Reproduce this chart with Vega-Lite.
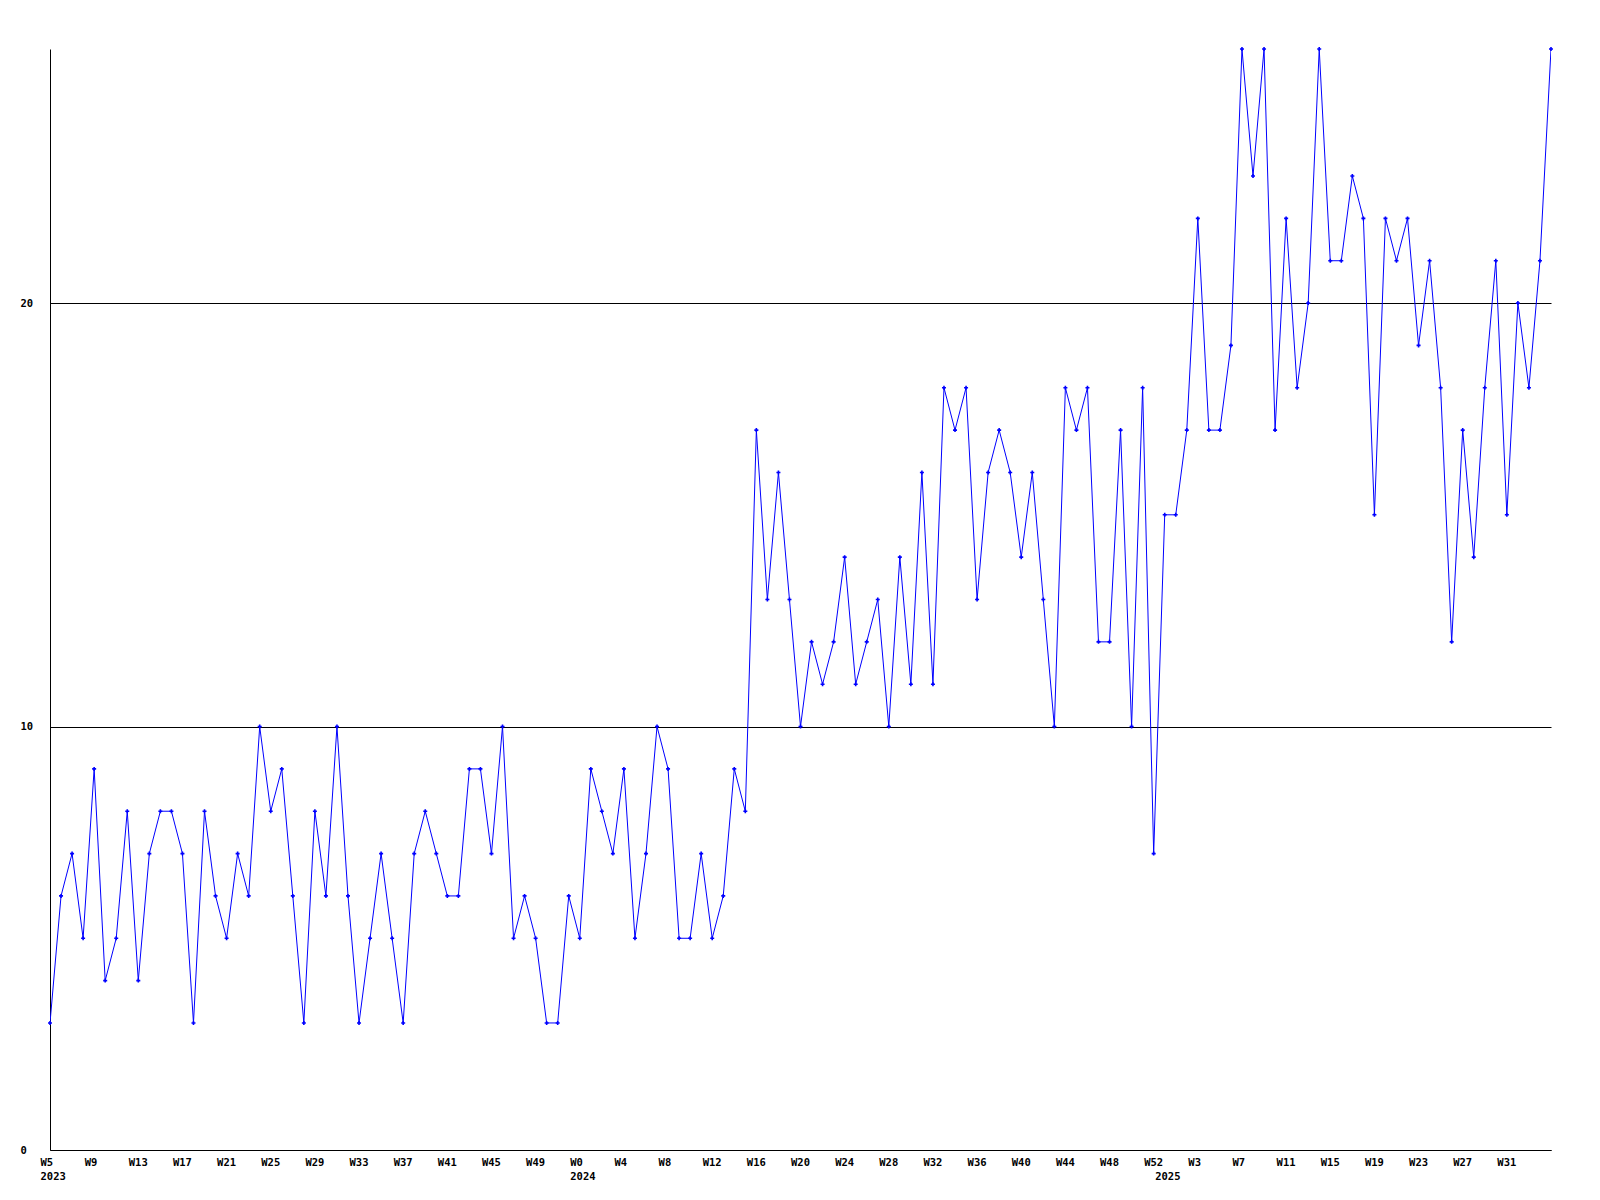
{
  "$schema": "https://vega.github.io/schema/vega-lite/v6.json",
  "width": 1501,
  "height": 1101,
  "autosize": "none",
  "padding": {"left": 50, "top": 49, "right": 49, "bottom": 50},
  "background": "white",
  "config": {"view": {"stroke": null}},
  "data": {"values": [
    {"wk": "2023 W5", "v": 3}, {"wk": "2023 W6", "v": 6}, {"wk": "2023 W7", "v": 7}, {"wk": "2023 W8", "v": 5},
    {"wk": "2023 W9", "v": 9}, {"wk": "2023 W10", "v": 4}, {"wk": "2023 W11", "v": 5}, {"wk": "2023 W12", "v": 8},
    {"wk": "2023 W13", "v": 4}, {"wk": "2023 W14", "v": 7}, {"wk": "2023 W15", "v": 8}, {"wk": "2023 W16", "v": 8},
    {"wk": "2023 W17", "v": 7}, {"wk": "2023 W18", "v": 3}, {"wk": "2023 W19", "v": 8}, {"wk": "2023 W20", "v": 6},
    {"wk": "2023 W21", "v": 5}, {"wk": "2023 W22", "v": 7}, {"wk": "2023 W23", "v": 6}, {"wk": "2023 W24", "v": 10},
    {"wk": "2023 W25", "v": 8}, {"wk": "2023 W26", "v": 9}, {"wk": "2023 W27", "v": 6}, {"wk": "2023 W28", "v": 3},
    {"wk": "2023 W29", "v": 8}, {"wk": "2023 W30", "v": 6}, {"wk": "2023 W31", "v": 10}, {"wk": "2023 W32", "v": 6},
    {"wk": "2023 W33", "v": 3}, {"wk": "2023 W34", "v": 5}, {"wk": "2023 W35", "v": 7}, {"wk": "2023 W36", "v": 5},
    {"wk": "2023 W37", "v": 3}, {"wk": "2023 W38", "v": 7}, {"wk": "2023 W39", "v": 8}, {"wk": "2023 W40", "v": 7},
    {"wk": "2023 W41", "v": 6}, {"wk": "2023 W42", "v": 6}, {"wk": "2023 W43", "v": 9}, {"wk": "2023 W44", "v": 9},
    {"wk": "2023 W45", "v": 7}, {"wk": "2023 W46", "v": 10}, {"wk": "2023 W47", "v": 5}, {"wk": "2023 W48", "v": 6},
    {"wk": "2023 W49", "v": 5}, {"wk": "2023 W50", "v": 3}, {"wk": "2023 W51", "v": 3}, {"wk": "2023 W52", "v": 6},
    {"wk": "2024 W0", "v": 5}, {"wk": "2024 W1", "v": 9}, {"wk": "2024 W2", "v": 8}, {"wk": "2024 W3", "v": 7},
    {"wk": "2024 W4", "v": 9}, {"wk": "2024 W5", "v": 5}, {"wk": "2024 W6", "v": 7}, {"wk": "2024 W7", "v": 10},
    {"wk": "2024 W8", "v": 9}, {"wk": "2024 W9", "v": 5}, {"wk": "2024 W10", "v": 5}, {"wk": "2024 W11", "v": 7},
    {"wk": "2024 W12", "v": 5}, {"wk": "2024 W13", "v": 6}, {"wk": "2024 W14", "v": 9}, {"wk": "2024 W15", "v": 8},
    {"wk": "2024 W16", "v": 17}, {"wk": "2024 W17", "v": 13}, {"wk": "2024 W18", "v": 16}, {"wk": "2024 W19", "v": 13},
    {"wk": "2024 W20", "v": 10}, {"wk": "2024 W21", "v": 12}, {"wk": "2024 W22", "v": 11}, {"wk": "2024 W23", "v": 12},
    {"wk": "2024 W24", "v": 14}, {"wk": "2024 W25", "v": 11}, {"wk": "2024 W26", "v": 12}, {"wk": "2024 W27", "v": 13},
    {"wk": "2024 W28", "v": 10}, {"wk": "2024 W29", "v": 14}, {"wk": "2024 W30", "v": 11}, {"wk": "2024 W31", "v": 16},
    {"wk": "2024 W32", "v": 11}, {"wk": "2024 W33", "v": 18}, {"wk": "2024 W34", "v": 17}, {"wk": "2024 W35", "v": 18},
    {"wk": "2024 W36", "v": 13}, {"wk": "2024 W37", "v": 16}, {"wk": "2024 W38", "v": 17}, {"wk": "2024 W39", "v": 16},
    {"wk": "2024 W40", "v": 14}, {"wk": "2024 W41", "v": 16}, {"wk": "2024 W42", "v": 13}, {"wk": "2024 W43", "v": 10},
    {"wk": "2024 W44", "v": 18}, {"wk": "2024 W45", "v": 17}, {"wk": "2024 W46", "v": 18}, {"wk": "2024 W47", "v": 12},
    {"wk": "2024 W48", "v": 12}, {"wk": "2024 W49", "v": 17}, {"wk": "2024 W50", "v": 10}, {"wk": "2024 W51", "v": 18},
    {"wk": "2024 W52", "v": 7},
    {"wk": "2025 W0", "v": 15}, {"wk": "2025 W1", "v": 15}, {"wk": "2025 W2", "v": 17}, {"wk": "2025 W3", "v": 22},
    {"wk": "2025 W4", "v": 17}, {"wk": "2025 W5", "v": 17}, {"wk": "2025 W6", "v": 19}, {"wk": "2025 W7", "v": 26},
    {"wk": "2025 W8", "v": 23}, {"wk": "2025 W9", "v": 26}, {"wk": "2025 W10", "v": 17}, {"wk": "2025 W11", "v": 22},
    {"wk": "2025 W12", "v": 18}, {"wk": "2025 W13", "v": 20}, {"wk": "2025 W14", "v": 26}, {"wk": "2025 W15", "v": 21},
    {"wk": "2025 W16", "v": 21}, {"wk": "2025 W17", "v": 23}, {"wk": "2025 W18", "v": 22}, {"wk": "2025 W19", "v": 15},
    {"wk": "2025 W20", "v": 22}, {"wk": "2025 W21", "v": 21}, {"wk": "2025 W22", "v": 22}, {"wk": "2025 W23", "v": 19},
    {"wk": "2025 W24", "v": 21}, {"wk": "2025 W25", "v": 18}, {"wk": "2025 W26", "v": 12}, {"wk": "2025 W27", "v": 17},
    {"wk": "2025 W28", "v": 14}, {"wk": "2025 W29", "v": 18}, {"wk": "2025 W30", "v": 21}, {"wk": "2025 W31", "v": 15},
    {"wk": "2025 W32", "v": 20}, {"wk": "2025 W33", "v": 18}, {"wk": "2025 W34", "v": 21}, {"wk": "2025 W35", "v": 26}
  ]},
  "encoding": {
    "x": {
      "field": "wk", "type": "ordinal", "sort": null,
      "scale": {"type": "point", "padding": 0},
      "axis": {
        "title": null, "ticks": false, "grid": false,
        "domainColor": "#000000", "domainWidth": 1,
        "values": ["2023 W5", "2023 W9", "2023 W13", "2023 W17", "2023 W21", "2023 W25", "2023 W29", "2023 W33", "2023 W37", "2023 W41", "2023 W45", "2023 W49",
                   "2024 W0", "2024 W4", "2024 W8", "2024 W12", "2024 W16", "2024 W20", "2024 W24", "2024 W28", "2024 W32", "2024 W36", "2024 W40", "2024 W44", "2024 W48", "2024 W52",
                   "2025 W0", "2025 W3", "2025 W7", "2025 W11", "2025 W15", "2025 W19", "2025 W23", "2025 W27", "2025 W31"],
        "labelExpr": "datum.value == '2023 W5' ? ['W5', '2023'] : datum.value == '2024 W0' ? ['W0', '2024'] : datum.value == '2025 W0' ? ['', '2025'] : split(datum.value, ' ')[1]",
        "labelAlign": "left", "labelOffset": -10, "labelBaseline": "top", "labelPadding": 7,
        "labelFont": "DejaVu Sans Mono", "labelFontWeight": "bold", "labelFontSize": 10.5,
        "labelColor": "#000000", "labelOverlap": false, "labelLineHeight": 14.5,
        "labelBound": false, "labelFlush": false, "labelAngle": 0
      }
    },
    "y": {
      "field": "v", "type": "quantitative",
      "scale": {"domain": [0, 26], "nice": false, "zero": true},
      "axis": {
        "title": null, "values": [0, 10, 20], "ticks": false,
        "grid": true, "gridColor": "#000000", "gridWidth": 1, "gridOpacity": 1,
        "domainColor": "#000000", "domainWidth": 1,
        "labelAlign": "left", "labelPadding": 30, "labelBaseline": "middle",
        "labelFont": "DejaVu Sans Mono", "labelFontWeight": "bold", "labelFontSize": 10.5,
        "labelColor": "#000000"
      }
    }
  },
  "layer": [
    {"mark": {"type": "line", "color": "#0000ff", "strokeWidth": 1, "clip": true}},
    {"mark": {"type": "point", "shape": "cross", "filled": true, "color": "#0000ff", "size": 16, "opacity": 1}}
  ]
}
